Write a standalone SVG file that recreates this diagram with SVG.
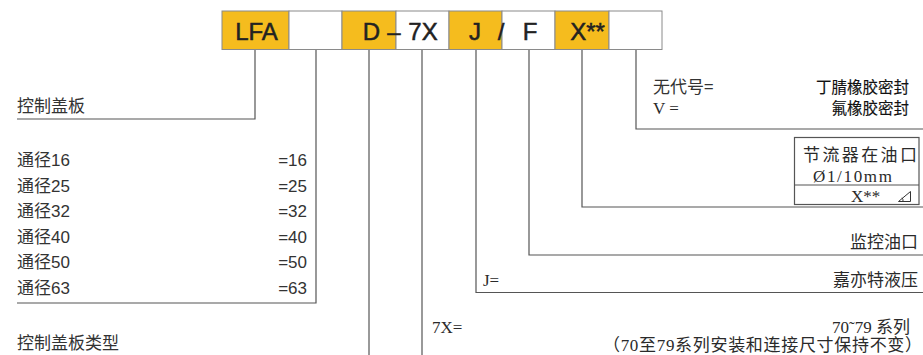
<svg xmlns="http://www.w3.org/2000/svg" width="923" height="355" viewBox="0 0 923 355">
<style>
.y{fill:#F5BC1E;stroke:#8a8a8a;stroke-width:1}
.w{fill:#fff;stroke:#8a8a8a;stroke-width:1}
.code{font-family:"Liberation Sans",Arial,sans-serif;font-size:24px;fill:#222;stroke:#222;stroke-width:0.5;text-anchor:middle}
.ln{fill:none;stroke:#555;stroke-width:1.2}
.ls{font-family:"Liberation Sans","Noto Sans CJK SC",sans-serif;font-size:17px;fill:#333}
.sf{font-family:"Liberation Serif","Noto Sans CJK SC",serif;font-size:17px;fill:#2a2a2a}
.bd{font-family:"Noto Sans CJK SC",sans-serif;font-size:15.5px;fill:#111;stroke:#111;stroke-width:0.15}
.e{text-anchor:end}
</style>
<g id="code-boxes">
<rect class="y" x="222" y="11" width="67" height="38.5"/>
<rect class="w" x="289" y="11" width="53" height="38.5"/>
<rect class="y" x="342" y="11" width="54" height="38.5"/>
<rect class="w" x="396" y="11" width="53" height="38.5"/>
<rect class="y" x="449" y="11" width="53" height="38.5"/>
<rect class="w" x="502" y="11" width="53" height="38.5"/>
<rect class="y" x="555" y="11" width="54" height="38.5"/>
<rect class="w" x="609" y="11" width="53" height="38.5"/>
<text class="code" x="256.5" y="40">LFA</text>
<text class="code" x="371.5" y="40">D</text>
<text class="code" x="394" y="40">–</text>
<text class="code" x="423" y="40">7X</text>
<text class="code" x="475" y="40">J</text>
<text class="code" x="501" y="40">/</text>
<text class="code" x="530" y="40">F</text>
<text class="code" x="587.5" y="40">X**</text>
</g>
<g id="connectors">
<polyline class="ln" points="255,50 255,119 17,119"/>
<polyline class="ln" points="316,50 316,303 17,303"/>
<line class="ln" x1="369" y1="50" x2="369" y2="355"/>
<line class="ln" x1="422" y1="50" x2="422" y2="355"/>
<polyline class="ln" points="476,50 476,292.5 923,292.5"/>
<polyline class="ln" points="529,50 529,255 923,255"/>
<polyline class="ln" points="582,50 582,207 923,207"/>
<polyline class="ln" points="636,50 636,129 923,129"/>
</g>
<g id="cover-plate">
<text class="ls" x="17" y="112">控制盖板</text>
</g>
<g id="size">
<text class="ls" x="17" y="166">通径16</text>
<text class="ls" x="17" y="191.5">通径25</text>
<text class="ls" x="17" y="217">通径32</text>
<text class="ls" x="17" y="242.5">通径40</text>
<text class="ls" x="17" y="268">通径50</text>
<text class="ls" x="17" y="293.5">通径63</text>
<text class="ls e" x="307" y="166">=16</text>
<text class="ls e" x="307" y="191.5">=25</text>
<text class="ls e" x="307" y="217">=32</text>
<text class="ls e" x="307" y="242.5">=40</text>
<text class="ls e" x="307" y="268">=50</text>
<text class="ls e" x="307" y="293.5">=63</text>
</g>
<g id="cover-type">
<text class="ls" x="17" y="349">控制盖板类型</text>
</g>
<g id="series">
<text class="sf" x="432" y="333">7X=</text>
<text class="sf e" x="910" y="333" font-size="18.5">70˜79 系列</text>
<text class="sf e" x="922" y="351" font-size="18.5" textLength="319">（70至79系列安装和连接尺寸保持不变）</text>
</g>
<g id="maker">
<text class="sf" x="483" y="286">J=</text>
<text class="sf e" x="918" y="286" font-size="18.5">嘉亦特液压</text>
</g>
<g id="monitor">
<text class="sf e" x="918" y="248" font-size="19">监控油口</text>
</g>
<g id="throttle">
<rect x="794.5" y="137.5" width="124.5" height="67" fill="#fff" stroke="#555" stroke-width="1.2"/>
<line x1="794.5" y1="185" x2="919" y2="185" stroke="#555" stroke-width="1.2"/>
<text class="sf" x="803" y="161" font-size="19" textLength="114">节流器在油口</text>
<text class="sf" x="813" y="182" font-size="18" textLength="79">Ø1/10mm</text>
<text class="sf" x="851" y="202" font-size="14">X**</text>
<path d="M898.5,201.5 L910.5,201.5 L910.5,191.5 Z M903,201.5 A4.5,4.5 0 0 0 902,197.8" fill="none" stroke="#333" stroke-width="1"/>
</g>
<g id="seal">
<text font-family="Noto Sans CJK SC,sans-serif" font-size="17" fill="#333" x="653" y="93">无代号=</text>
<text class="sf" x="653" y="114">V =</text>
<text class="bd e" x="909" y="93">丁腈橡胶密封</text>
<text class="bd e" x="909" y="114">氟橡胶密封</text>
</g>
</svg>
